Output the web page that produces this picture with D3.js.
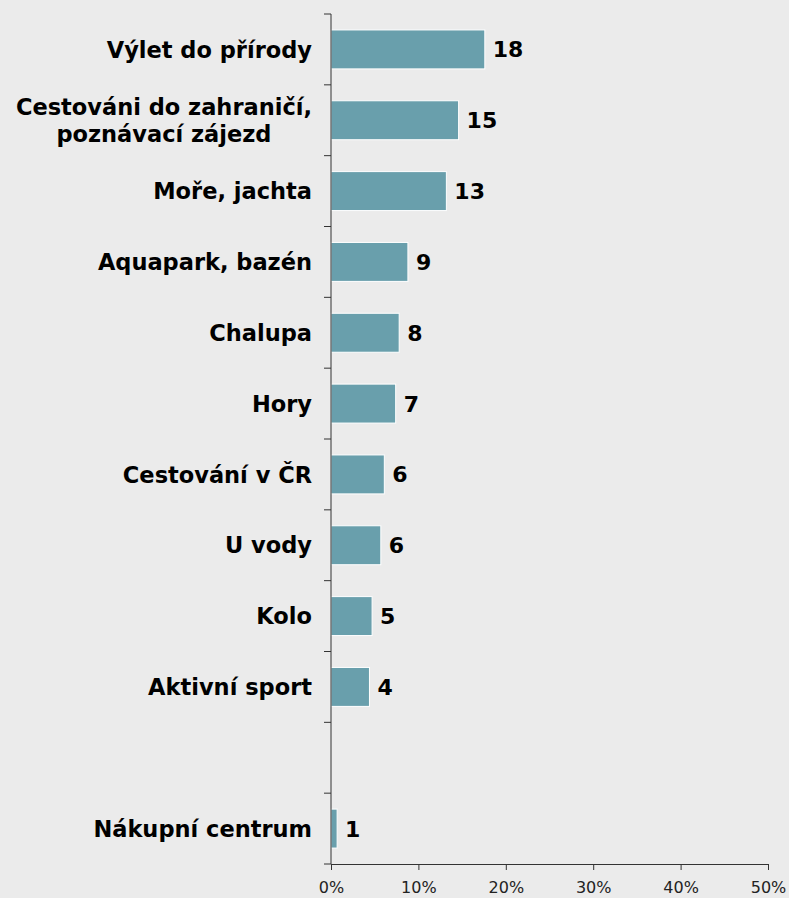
<!DOCTYPE html>
<html><head><meta charset="utf-8">
<script src="https://cdn.jsdelivr.net/npm/d3@7"></script>
<style>
html,body{margin:0;padding:0;background:#ebebeb;}
svg{display:block;}
</style></head>
<body>
<script>
const categories = ["Výlet do přírody", "Cestováni do zahraničí,|poznávací zájezd", "Moře, jachta", "Aquapark, bazén", "Chalupa", "Hory", "Cestování v ČR", "U vody", "Kolo", "Aktivní sport", "", "Nákupní centrum"];
const values = [17.6, 14.6, 13.2, 8.8, 7.8, 7.4, 6.1, 5.7, 4.7, 4.4, null, 0.7];
const valueLabels = ["18", "15", "13", "9", "8", "7", "6", "6", "5", "4", "", "1"];
const xTicks = [0, 10, 20, 30, 40, 50];

const W = 789, H = 898;
const m = {left: 331, right: 21, top: 14, bottom: 34};
const svg = d3.select("body").append("svg").attr("width", W).attr("height", H);
svg.append("rect").attr("width", W).attr("height", H).attr("fill", "#ebebeb");

const x = d3.scaleLinear().domain([0, 50]).range([m.left, W - m.right]);
const y = d3.scaleBand().domain(d3.range(categories.length)).range([m.top, H - m.bottom]).paddingInner(0.45).paddingOuter(0.225);
const slot = d3.scaleBand().domain(d3.range(categories.length)).range([m.top, H - m.bottom]);

const font = "'DejaVu Sans', Verdana, sans-serif";
const labelSize = 22.5;

// bars
svg.append("g").selectAll("rect").data(values.map((v,i)=>({v,i})).filter(d=>d.v!=null))
  .join("rect")
  .attr("x", x(0))
  .attr("y", d => y(d.i))
  .attr("width", d => x(d.v) - x(0))
  .attr("height", y.bandwidth())
  .attr("fill", "#699fac")
  .attr("stroke", "#ffffff")
  .attr("stroke-width", 1);

// value labels
svg.append("g").selectAll("text").data(values.map((v,i)=>({v,i})).filter(d=>d.v!=null))
  .join("text")
  .attr("x", d => x(d.v) + 8)
  .attr("y", d => y(d.i) + y.bandwidth()/2)
  .attr("dy", "0.36em")
  .attr("font-family", font).attr("font-weight", "bold").attr("font-size", 22)
  .attr("fill", "#000")
  .text(d => valueLabels[d.i]);

// y axis line and ticks
const yAxis = svg.append("g");
yAxis.append("line").attr("x1", x(0)).attr("x2", x(0)).attr("y1", m.top).attr("y2", H - m.bottom)
  .attr("stroke", "#333").attr("stroke-width", 1);
yAxis.selectAll("line.t").data(d3.range(categories.length + 1)).join("line").attr("class","t")
  .attr("x1", x(0) - 7).attr("x2", x(0))
  .attr("y1", i => i < categories.length ? slot(i) : H - m.bottom)
  .attr("y2", i => i < categories.length ? slot(i) : H - m.bottom)
  .attr("stroke", "#333").attr("stroke-width", 1);

// category labels
const labelRight = x(0) - 19;
categories.forEach((c, i) => {
  if (!c) return;
  const lines = c.split("|");
  const cy = slot(i) + slot.bandwidth()/2;
  const lh = 26.5;
  const t = svg.append("text")
    .attr("font-family", font).attr("font-weight", "bold").attr("font-size", labelSize)
    .attr("fill", "#000");
  lines.forEach((ln, k) => {
    t.append("tspan").attr("y", cy + (k - (lines.length-1)/2) * lh).attr("dy", "0.36em").text(ln);
  });
  const tsp = t.selectAll("tspan").nodes();
  const widths = tsp.map(n => n.getComputedTextLength());
  const maxW = d3.max(widths);
  tsp.forEach(n => d3.select(n).attr("x", labelRight - maxW/2));
  t.attr("text-anchor", "middle");
});

// x axis
const xa = svg.append("g").attr("transform", `translate(0,${H - m.bottom})`)
  .call(d3.axisBottom(x).tickValues(xTicks).tickFormat(d => d + "%").tickSize(6).tickSizeOuter(0));
xa.select(".domain").attr("stroke", "#333");
xa.selectAll(".tick line").attr("stroke", "#333");
xa.selectAll("text").attr("font-family", font).attr("font-size", 16).attr("fill", "#222").attr("y", 28.5).attr("dy", "0");
</script>
</body></html>
